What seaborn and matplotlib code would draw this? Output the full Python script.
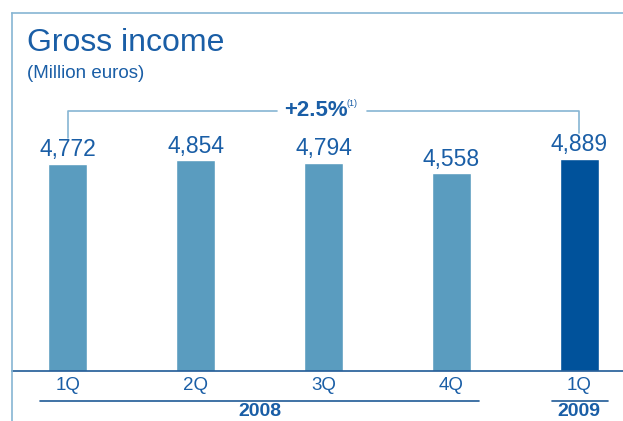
import pandas as pd
import matplotlib.pyplot as plt
import matplotlib.transforms as mtransforms
from matplotlib.lines import Line2D
import seaborn as sns

# Data
quarters = ['1Q', '2Q', '3Q', '4Q', '1Q ']
values = [4772, 4854, 4794, 4558, 4889]
years = ['2008', '2008', '2008', '2008', '2009']

df = pd.DataFrame({'quarter': quarters, 'value': values, 'year': years})

light_bar = '#5a9cbf'
dark_bar = '#00529b'
text_blue = '#1a5ea6'
line_light = '#86b5d3'

sns.set_style('white')
plt.rcParams['font.family'] = ['Liberation Sans', 'DejaVu Sans']

fig = plt.figure(figsize=(6.23, 4.21), dpi=100)
# axes: left at frame line, bottom at baseline, top at frame top
ax = fig.add_axes([12 / 623, 50 / 421, 611 / 623, 358 / 421])

sns.barplot(data=df, x='quarter', y='value', hue='year',
            palette={'2008': light_bar, '2009': dark_bar}, saturation=1,
            width=0.305, dodge=False, legend=False, ax=ax)

ax.set_xlim(-56 / 128, 4 + 44 / 128)
ax.set_ylim(0, 4772 * 358 / 207)

# value labels
for i, v in enumerate(values):
    ax.annotate(f'{v:,}', (i, v), xytext=(0, 2), textcoords='offset points',
                ha='center', va='bottom', fontsize=16.5, color=text_blue)

# frame and baseline
ax.spines['right'].set_visible(False)
ax.spines['left'].set_visible(False)
ax.spines['top'].set_color(line_light)
ax.spines['top'].set_linewidth(1.2)
ax.spines['bottom'].set_color('#1f5a96')
ax.spines['bottom'].set_linewidth(1.2)
fig.add_artist(Line2D([12 / 623, 12 / 623], [0, 408 / 421], color=line_light, lw=1.2))

# tick labels
ax.set_yticks([])
ax.set_xticks(range(len(quarters)))
ax.set_xticklabels([q.strip() for q in quarters], fontsize=13.5, color=text_blue)
ax.tick_params(axis='x', length=0, pad=4)
ax.set_xlabel('')
ax.set_ylabel('')

# year groups below the axis
trans = mtransforms.blended_transform_factory(ax.transData, ax.transAxes)
ax.plot([-0.22, 3.22], [-0.084, -0.084], color='#1f5a96', lw=1.2,
        transform=trans, clip_on=False)
ax.plot([3.79, 4.23], [-0.084, -0.084], color='#1f5a96', lw=1.2,
        transform=trans, clip_on=False)
ax.text(1.5, -0.112, '2008', transform=trans, ha='center', va='center',
        fontsize=14, fontweight='bold', color=text_blue)
ax.text(4, -0.112, '2009', transform=trans, ha='center', va='center',
        fontsize=14, fontweight='bold', color=text_blue)

# growth bracket
bracket_y = 5994
ax.plot([0, 0, 1.64], [5371, bracket_y, bracket_y], color=line_light, lw=1.2)
ax.plot([2.34, 4, 4], [bracket_y, bracket_y, 5487], color=line_light, lw=1.2)
ax.text(1.94, bracket_y, '+2.5%', ha='center', va='center', fontsize=16,
        fontweight='bold', color=text_blue)
ax.text(2.18, bracket_y + 170, '(1)', ha='left', va='center', fontsize=6.5,
        color=text_blue)

# titles
fig.text(27 / 623, 1 - 43 / 421, 'Gross income', fontsize=23, color=text_blue,
         ha='left', va='center')
fig.text(27 / 623, 1 - 74 / 421, '(Million euros)', fontsize=13.5, color=text_blue,
         ha='left', va='center')

fig.savefig('out.png', dpi=100)
